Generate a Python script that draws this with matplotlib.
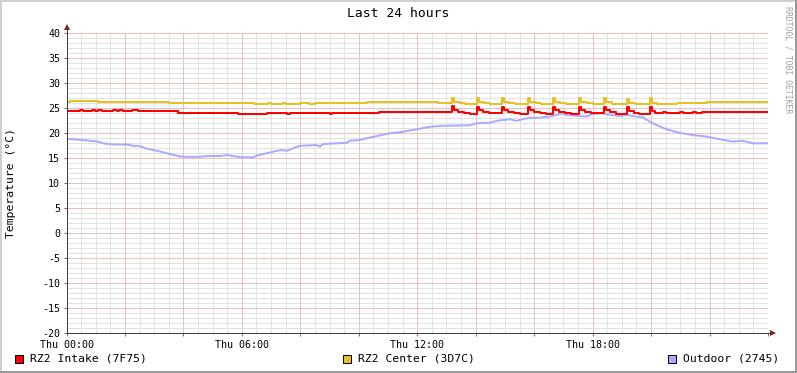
import matplotlib
matplotlib.use("Agg")
import matplotlib.pyplot as plt
from matplotlib.lines import Line2D
from matplotlib.patches import Rectangle

# ---------------- data (hours since Thu 00:00, degC) ----------------
outdoor_t = [0.00, 0.46, 1.08, 1.25, 1.55, 2.17, 2.27, 2.45, 2.58, 2.75, 3.10, 3.43, 3.78, 3.98,
             4.56, 4.80, 5.25, 5.49, 5.70, 6.00, 6.38, 6.55, 6.85, 7.20, 7.37, 7.55, 7.75, 7.98,
             8.56, 8.67, 8.77, 9.59, 9.69, 10.03, 10.27, 10.62, 11.06, 11.50, 11.98, 12.43, 12.87,
             13.80, 14.03, 14.48, 14.72, 15.16, 15.40, 15.60, 15.85, 16.19, 16.53, 16.77, 16.94,
             17.11, 17.56, 17.79, 18.00, 18.34, 18.58, 18.92, 19.16, 19.37, 19.72, 19.95, 20.19,
             20.53, 20.97, 21.42, 21.90, 22.35, 22.79, 23.13, 23.47, 24.00]
outdoor_v = [18.9, 18.7, 18.35, 18.0, 17.8, 17.7, 17.45, 17.5, 17.3, 16.9, 16.5, 16.0, 15.5, 15.3,
             15.3, 15.45, 15.45, 15.65, 15.45, 15.2, 15.2, 15.6, 16.0, 16.5, 16.65, 16.5, 17.0, 17.5,
             17.65, 17.35, 17.85, 18.1, 18.5, 18.65, 19.0, 19.45, 20.0, 20.3, 20.8, 21.3, 21.5,
             21.6, 22.0, 22.1, 22.5, 22.8, 22.5, 22.8, 23.1, 23.1, 23.35, 23.65, 24.0,
             23.65, 23.45, 23.35, 23.85, 24.0, 23.7, 23.45, 23.7, 23.45, 23.2, 22.35, 21.65,
             20.8, 20.1, 19.65, 19.35, 18.8, 18.35, 18.5, 18.0, 18.0]

intake_t = [0.00, 0.46, 0.56, 0.87, 0.97, 1.08, 1.22, 1.60, 1.72, 1.80, 1.95, 2.25, 2.45,
            3.80, 5.87, 6.85, 7.55, 7.65, 9.00, 9.10, 10.70,
            13.18, 13.27, 13.40, 13.60, 13.80,
            14.03, 14.12, 14.25, 14.45, 14.65,
            14.89, 14.98, 15.10, 15.30, 15.50,
            15.78, 15.87, 16.00, 16.20, 16.40,
            16.63, 16.72, 16.85, 17.05, 17.25,
            17.52, 17.61, 17.74, 17.95,
            18.38, 18.47, 18.60, 18.80,
            19.16, 19.25, 19.40, 19.60,
            19.95, 20.04, 20.15,
            20.40, 20.50, 21.00, 21.10, 21.45, 21.55, 21.75, 21.85, 24.00]
intake_v = [24.4, 24.6, 24.4, 24.6, 24.4, 24.6, 24.4, 24.6, 24.4, 24.6, 24.4, 24.6, 24.4,
            24.0, 23.8, 24.0, 23.8, 24.0, 23.8, 24.0, 24.25,
            25.45, 24.7, 24.35, 24.1, 23.95,
            25.3, 24.6, 24.3, 24.1, 24.0,
            25.3, 24.6, 24.3, 24.1, 23.95,
            25.3, 24.6, 24.3, 24.05, 23.95,
            25.3, 24.6, 24.3, 24.05, 23.95,
            25.3, 24.6, 24.3, 24.0,
            25.3, 24.6, 24.2, 23.95,
            25.2, 24.5, 24.1, 23.95,
            25.3, 24.5, 24.15,
            24.35, 24.15, 24.35, 24.15, 24.35, 24.15, 24.35, 24.2, 24.2]

center_t = [0.00, 0.12, 1.08, 3.50, 6.40, 6.90, 7.00, 7.40, 7.50, 8.00, 8.30, 8.50, 10.27, 12.20, 12.70,
            13.18, 13.27, 13.45, 13.65,
            14.03, 14.12, 14.30, 14.50,
            14.89, 14.98, 15.15, 15.35,
            15.78, 15.87, 16.05, 16.25,
            16.63, 16.72, 16.90, 17.10,
            17.52, 17.61, 17.80, 18.00,
            18.38, 18.47, 18.65,
            19.16, 19.25, 19.45,
            19.95, 20.04, 20.20, 20.90, 21.00, 21.90, 24.00]
center_v = [26.35, 26.5, 26.2, 26.0, 25.85, 26.05, 25.85, 26.05, 25.85, 26.0, 25.85, 26.0, 26.2, 26.35, 26.0,
            27.1, 26.3, 26.1, 25.9,
            27.1, 26.3, 26.05, 25.9,
            27.1, 26.3, 26.05, 25.9,
            27.1, 26.3, 26.05, 25.9,
            27.1, 26.3, 26.05, 25.9,
            27.1, 26.3, 26.0, 25.9,
            27.0, 26.2, 25.95,
            26.9, 26.1, 25.9,
            27.0, 26.1, 25.95, 26.05, 26.0, 26.25, 26.25]

x_ticks = [0, 6, 12, 18]
x_labels = ["Thu 00:00", "Thu 06:00", "Thu 12:00", "Thu 18:00"]
y_ticks = list(range(-20, 41, 5))
series_names = ["RZ2 Intake (7F75)", "RZ2 Center (3D7C)", "Outdoor (2745)"]
series_colors = ["#FF0000", "#E8C020", "#AAAAFF"]

# ---------------- figure ----------------
W, H = 797, 373
fig = plt.figure(figsize=(W / 100, H / 100), dpi=100)
fig.patch.set_facecolor("white")
L, R, T, B = 66.5, 768.0, 33.3, 333.3
ax = fig.add_axes([L / W, (H - B) / H, (R - L) / W, (B - T) / H])
ax.set_facecolor("white")
ax.set_xlim(0, 24)
ax.set_ylim(-20, 40)

mono = "DejaVu Sans Mono"
px = 0.72  # 1 pixel in points

# grids (dotted, crisp)
minor_col = "#E2E2E2"
major_col = "#F2BDBD"
gkw = dict(lw=px, ls=(0, (1, 1)), antialiased=False)
for h in [i * 0.5 for i in range(1, 48)]:
    if abs(h / 2 - round(h / 2)) > 1e-6:
        ax.axvline(h, color=minor_col, zorder=1, **gkw)
for v in range(-19, 40):
    if v % 5 != 0:
        ax.axhline(v, color=minor_col, zorder=1, **gkw)
for h in range(2, 24, 2):
    ax.axvline(h, color=major_col, zorder=2, **gkw)
for v in range(-15, 41, 5):
    ax.axhline(v, color=major_col, zorder=2, **gkw)

# series
lw = 2 * px
ax.plot(outdoor_t, outdoor_v, color=series_colors[2], lw=lw, zorder=5)
ax.plot(intake_t, intake_v, color=series_colors[0], lw=lw, zorder=6, drawstyle="steps-post")
ax.plot(center_t, center_v, color=series_colors[1], lw=lw, zorder=6, drawstyle="steps-post")

# axes / ticks
for s in ["top", "right", "left", "bottom"]:
    ax.spines[s].set_visible(False)
ax.set_xticks(list(range(0, 25, 2)))
ax.set_xticklabels(["" if h not in x_ticks else x_labels[x_ticks.index(h)] for h in range(0, 25, 2)],
                   fontfamily=mono, fontsize=7.2)
ax.set_yticks(y_ticks)
ax.set_yticklabels([str(v) for v in y_ticks], fontfamily=mono, fontsize=7.2)
ax.tick_params(axis="both", direction="out", length=2.5, width=px, color="#707070", pad=2)
ax.set_xlim(0, 24)
ax.set_ylim(-20, 40)

axis_col = "#404040"
fig.add_artist(Line2D([L / W, (R + 3) / W], [(H - B) / H] * 2, color=axis_col, lw=px))
fig.add_artist(Line2D([L / W] * 2, [(H - B) / H, (H - T + 6) / H], color=axis_col, lw=px))
fig.add_artist(Line2D([(R + 4.5) / W], [(H - B) / H], marker=">", ms=4.5, color="#7F1F1F",
                      markeredgewidth=0))
fig.add_artist(Line2D([L / W], [(H - T + 6) / H], marker="^", ms=4.5, color="#7F1F1F",
                      markeredgewidth=0))

# title, y label, watermark
fig.text(398 / W, 1 - 13.5 / H, "Last 24 hours", ha="center", va="center",
         fontfamily=mono, fontsize=9.4, color="black")
fig.text(11.5 / W, 1 - 183 / H, "Temperature (°C)", ha="center", va="center",
         rotation=90, fontfamily=mono, fontsize=8.2)
fig.text(788 / W, 1 - 60 / H, "RRDTOOL / TOBI OETIKER", ha="center", va="center",
         rotation=-90, fontfamily=mono, fontsize=5.9, color="#A0A0A0")

# legend
legend_x = [15, 343, 668]
for name, col, x0 in zip(series_names, series_colors, legend_x):
    fig.add_artist(Rectangle((x0 / W, 1 - 362.5 / H), 8 / W, 8 / H, facecolor=col,
                             edgecolor="black", lw=px, transform=fig.transFigure))
    fig.text((x0 + 15) / W, 1 - 358.5 / H, name, ha="left", va="center",
             fontfamily=mono, fontsize=8.2)

# image frame
fig.add_artist(Line2D([0.5 / W, 0.5 / W], [0, 1], color="#CFCFCF", lw=2 * px))
fig.add_artist(Line2D([0, 1], [1 - 0.5 / H, 1 - 0.5 / H], color="#CFCFCF", lw=2 * px))
fig.add_artist(Line2D([1 - 1 / W, 1 - 1 / W], [0, 1], color="#9A9A9A", lw=2 * px))
fig.add_artist(Line2D([0, 1], [1 / H, 1 / H], color="#9A9A9A", lw=2 * px))

fig.savefig("out.png", dpi=100, facecolor="white")
